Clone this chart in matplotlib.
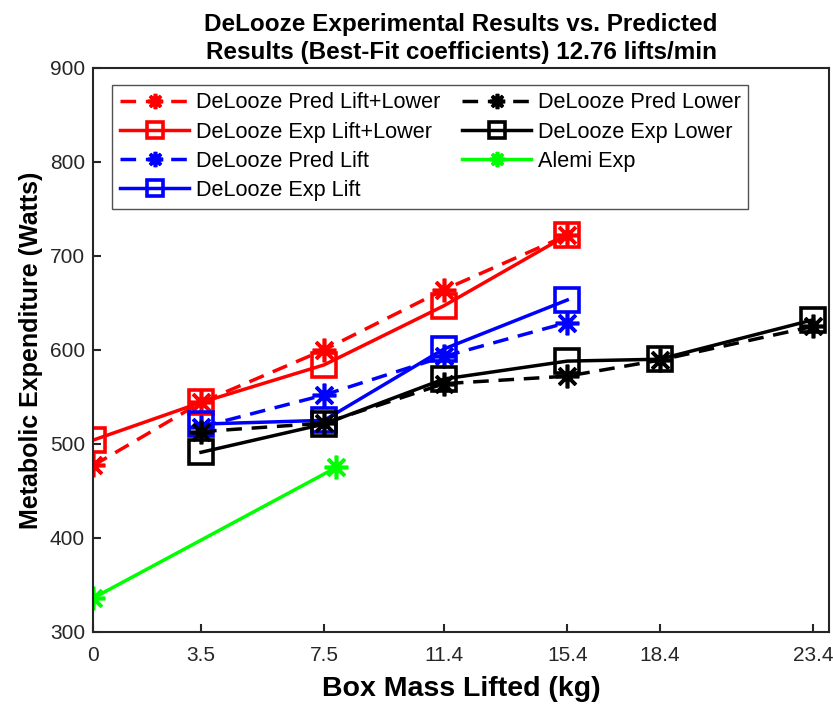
import matplotlib
matplotlib.use("Agg")
import matplotlib.pyplot as plt

plt.rcParams['font.family'] = ['Liberation Sans', 'DejaVu Sans']

# Data
x_pll = [0, 3.5, 7.5, 11.4, 15.4]
y_pred_lift_lower = [477, 544, 600, 664, 722]
y_exp_lift_lower = [504, 544, 584, 647, 722]
x_lift = [3.5, 7.5, 11.4, 15.4]
y_pred_lift = [518, 552, 593, 629]
y_exp_lift = [521, 525, 601, 653]
x_lower = [3.5, 7.5, 11.4, 15.4, 18.4, 23.4]
y_pred_lower = [513, 522, 564, 572, 589, 625]
y_exp_lower = [491, 521, 569, 588, 590, 632]
x_alemi = [0, 7.9]
y_alemi = [336, 475]
xticks = [0, 3.5, 7.5, 11.4, 15.4, 18.4, 23.4]
xticklabels = ["0", "3.5", "7.5", "11.4", "15.4", "18.4", "23.4"]
yticks = [300, 400, 500, 600, 700, 800, 900]

fig = plt.figure(figsize=(8.33, 7.06), dpi=100)
ax = fig.add_axes([0.112, 0.105, 0.883, 0.799])

lw = 2.5
star = (8, 2, 0)
ms_star = 17
ms_sq = 17
mew = 2.6
dash = (4.5, 2.8)
ax.plot(x_pll, y_pred_lift_lower, '--', color='#ff0000', lw=lw, marker=star, ms=ms_star, mew=mew,
        label='DeLooze Pred Lift+Lower', dashes=dash)
ax.plot(x_pll, y_exp_lift_lower, '-', color='#ff0000', lw=lw, marker='s', ms=ms_sq, mew=mew,
        mfc='none', label='DeLooze Exp Lift+Lower')
ax.plot(x_lift, y_pred_lift, '--', color='#0000ff', lw=lw, marker=star, ms=ms_star, mew=mew,
        label='DeLooze Pred Lift', dashes=dash)
ax.plot(x_lift, y_exp_lift, '-', color='#0000ff', lw=lw, marker='s', ms=ms_sq, mew=mew,
        mfc='none', label='DeLooze Exp Lift')
ax.plot(x_lower, y_pred_lower, '--', color='black', lw=lw, marker=star, ms=ms_star, mew=mew,
        label='DeLooze Pred Lower', dashes=dash)
ax.plot(x_lower, y_exp_lower, '-', color='black', lw=lw, marker='s', ms=ms_sq, mew=mew,
        mfc='none', label='DeLooze Exp Lower')
ax.plot(x_alemi, y_alemi, '-', color='#00ff00', lw=lw, marker=star, ms=ms_star, mew=mew,
        label='Alemi Exp')

ax.set_xlim(0, 23.9)
ax.set_ylim(300, 900)
ax.set_xticks(xticks)
ax.set_xticklabels(xticklabels, fontsize=15)
ax.set_yticks(yticks)
ax.set_yticklabels([str(v) for v in yticks], fontsize=15)
ax.tick_params(direction='in', length=6, width=1.5, color='#262626', labelcolor='#262626', pad=6)
ax.tick_params(axis='x', pad=10)
for s in ax.spines.values():
    s.set_linewidth(1.5)
    s.set_color('#262626')

ax.set_xlabel('Box Mass Lifted (kg)', fontsize=20.5, fontweight='bold', labelpad=8)
ax.set_ylabel('Metabolic Expenditure (Watts)', fontsize=18, fontweight='bold', labelpad=5)
ax.set_title('DeLooze Experimental Results vs. Predicted\nResults (Best-Fit coefficients) 12.76 lifts/min',
             fontsize=17.5, fontweight='bold', pad=6, linespacing=1.3)

leg = ax.legend(ncol=2, loc='upper left', bbox_to_anchor=(0.026, 0.97), fontsize=15.6,
                frameon=True, fancybox=False, edgecolor='#262626', handlelength=3.2,
                columnspacing=1.0, handletextpad=0.3, labelspacing=0.38, borderpad=0.35,
                borderaxespad=0, markerscale=0.65)
leg.get_frame().set_linewidth(1.0)

fig.savefig('out.png', dpi=100)
